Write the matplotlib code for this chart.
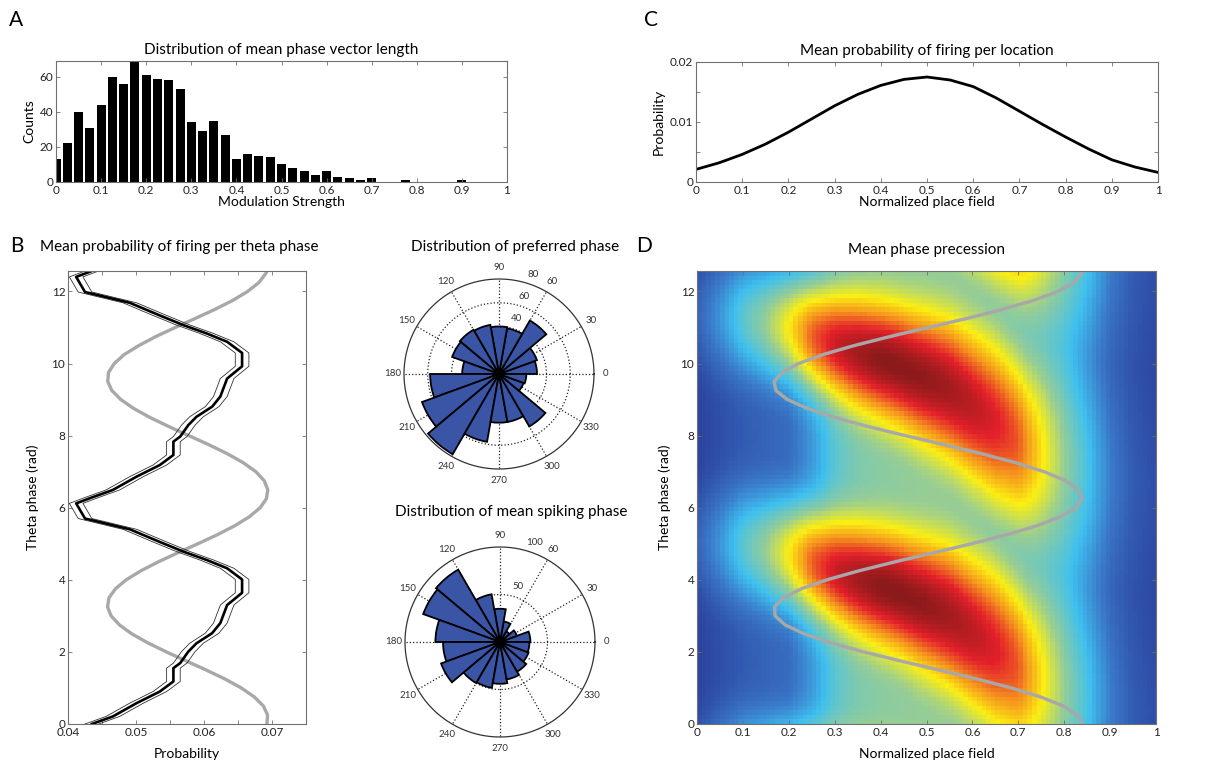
import numpy as np
import matplotlib.pyplot as plt
from matplotlib.colors import LinearSegmentedColormap

plt.rcParams['font.family'] = ['Lato', 'DejaVu Sans']
plt.rcParams['axes.edgecolor'] = '#707070'
plt.rcParams['axes.linewidth'] = 0.8

W, H = 1217, 764

# A: mean phase vector length histogram (bin centres, counts)
strength_bins = np.arange(0, 1.0, 0.025)
strength_counts = [13, 22, 40, 31, 44, 60, 56, 69, 61, 59, 58, 53, 34, 29, 35, 27,
                   13, 16, 15, 14, 10, 8, 6, 4, 6, 3, 2, 1, 2, 0, 0, 1, 0, 0, 0, 0,
                   1, 0, 0, 0]

# C: mean firing probability along the place field
place_x = [0.0, 0.05, 0.1, 0.15, 0.2, 0.25, 0.3, 0.35, 0.4, 0.45, 0.5,
           0.55, 0.6, 0.65, 0.7, 0.75, 0.8, 0.85, 0.9, 0.95, 1.0]
place_prob = [0.0021, 0.0032, 0.0046, 0.0063, 0.0083, 0.0105, 0.0127, 0.0146,
              0.0161, 0.0171, 0.0175, 0.0170, 0.0159, 0.0140, 0.0118, 0.0096,
              0.0075, 0.0055, 0.0037, 0.0025, 0.0016]

# B: firing probability over one theta cycle (shown twice)
cycle_phase = [0.0, 0.21, 0.58, 0.90, 1.18, 1.55, 1.69, 2.01, 2.24, 2.52, 2.80,
               3.30, 3.64, 4.01, 4.32, 4.55, 4.78, 5.05, 5.40, 5.70, 6.12]
cycle_prob = [0.0435, 0.0466, 0.0501, 0.0535, 0.0555, 0.0555, 0.0565, 0.0577,
              0.0589, 0.0612, 0.0624, 0.0634, 0.0656, 0.0656, 0.0634, 0.0604,
              0.0570, 0.0535, 0.0491, 0.0425, 0.0412]
cycle_sem = 0.001

# grey theta reference, sampled every 0.25 rad
ref_phase = [0.0, 0.25, 0.5, 0.75, 1.0, 1.25, 1.5, 1.75, 2.0, 2.25, 2.5, 2.75,
             3.0, 3.25, 3.5, 3.75, 4.0, 4.25, 4.5, 4.75, 5.0, 5.25, 5.5, 5.75,
             6.0, 6.25, 6.5, 6.75, 7.0, 7.25, 7.5, 7.75, 8.0, 8.25, 8.5, 8.75,
             9.0, 9.25, 9.5, 9.75, 10.0, 10.25, 10.5, 10.75, 11.0, 11.25, 11.5,
             11.75, 12.0, 12.25, 12.5, 12.566]
ref_prob = [0.06925, 0.06935, 0.06873, 0.06740, 0.06548, 0.06306, 0.06030, 0.05737,
            0.05446, 0.05175, 0.04939, 0.04755, 0.04634, 0.04581, 0.04603, 0.04697,
            0.04856, 0.05072, 0.05330, 0.05616, 0.05910, 0.06196, 0.06453, 0.06668,
            0.06826, 0.06918, 0.06938, 0.06885, 0.06762, 0.06576, 0.06341, 0.06068,
            0.05777, 0.05484, 0.05209, 0.04968, 0.04777, 0.04645, 0.04584, 0.04596,
            0.04680, 0.04828, 0.05043, 0.05294, 0.05578, 0.05871, 0.06159, 0.06422,
            0.06642, 0.06809, 0.06910, 0.06925]

# rose histograms, 18 bins of 20 degrees starting at 0
preferred_counts = [32, 34, 52, 39, 40, 42, 43, 42, 31, 58, 69, 78, 58, 41, 41, 51, 22, 23]
spiking_counts = [32, 19, 13, 22, 35, 51, 88, 86, 68, 60, 66, 50, 49, 44, 40, 36, 32, 31]

# D: phase precession map, described by its profile across the field
field_x = [0.0, 0.05, 0.1, 0.15, 0.2, 0.25, 0.3, 0.35, 0.4, 0.45, 0.5,
           0.55, 0.6, 0.65, 0.7, 0.75, 0.8, 0.85, 0.9, 0.95, 1.0]
field_peak = [0.17, 0.27, 0.40, 0.50, 0.64, 0.82, 0.92, 0.97, 1.0, 1.0, 0.99,
              0.97, 0.94, 0.90, 0.83, 0.66, 0.50, 0.37, 0.23, 0.15, 0.12]
field_trough = [0.08, 0.12, 0.15, 0.17, 0.19, 0.28, 0.40, 0.46, 0.48, 0.49, 0.50,
                0.50, 0.50, 0.49, 0.47, 0.44, 0.38, 0.28, 0.18, 0.13, 0.10]
field_sharpness = [1.6, 1.6, 1.6, 1.6, 1.6, 1.6, 1.6, 1.5, 1.4, 1.3, 1.15,
                   1.0, 0.9, 0.8, 0.8, 0.8, 0.8, 0.8, 0.8, 0.8, 0.8]
ridge_x = [0.0, 0.1, 0.2, 0.25, 0.35, 0.43, 0.55, 0.65, 0.72, 0.85, 1.0]
ridge_phase = [5.05, 4.95, 4.7, 4.47, 4.02, 3.69, 3.02, 2.1, 1.4, 0.75, 0.3]

# grey theta reference over the place field, sampled every 0.25 rad
prec_phase = ref_phase
prec_x = [0.839, 0.829, 0.798, 0.749, 0.685, 0.609, 0.527, 0.443, 0.363, 0.292,
          0.234, 0.192, 0.170, 0.169, 0.188, 0.227, 0.283, 0.353, 0.432, 0.516,
          0.598, 0.675, 0.741, 0.792, 0.826, 0.839, 0.831, 0.803, 0.756, 0.694,
          0.619, 0.538, 0.454, 0.373, 0.301, 0.241, 0.197, 0.172, 0.168, 0.185,
          0.221, 0.275, 0.343, 0.421, 0.504, 0.588, 0.665, 0.733, 0.787, 0.822,
          0.838, 0.839]

jet_print = LinearSegmentedColormap.from_list('jet_print', [
    (0.00, '#23328a'), (0.11, '#2e4ba6'), (0.22, '#3a78c8'), (0.35, '#3ec0ef'),
    (0.50, '#96cd96'), (0.64, '#fbef12'), (0.77, '#f5921e'), (0.89, '#e3202a'),
    (1.00, '#8c1a1a')])

TICK = 8.5
LABEL = 10
TITLE = 11
GREY = '#a8a8a8'


def rect(left, top, right, bottom):
    return [left / W, 1 - bottom / H, (right - left) / W, (bottom - top) / H]


def style(ax):
    ax.tick_params(direction='in', top=True, right=True, length=3, width=0.6,
                   color='#707070', labelsize=TICK, labelcolor='#222222', pad=2)


def draw_rose(ax, counts, rmax, rings):
    n = len(counts)
    edges = np.deg2rad(np.arange(n) * 360 / n)
    t = np.linspace(0, 2 * np.pi, 361)
    ax.set_ylim(0, rmax)
    ax.axis('off')
    for r in rings:
        ax.plot(t, np.full_like(t, r), ':', color='#222222', lw=0.9, zorder=1)
        ax.text(np.deg2rad(72), r + 0.11 * rmax, str(r), fontsize=7,
                color='#333333', ha='center', va='center', zorder=1)
    for a in range(0, 360, 30):
        ax.plot([np.deg2rad(a)] * 2, [0, rmax], ':', color='#222222', lw=0.9, zorder=1)
        ax.text(np.deg2rad(a), 1.12 * rmax, str(a), fontsize=7, color='#333333',
                ha='center', va='center')
    ax.plot(t, np.full_like(t, rmax), '-', color='#333333', lw=0.9, clip_on=False)
    ax.text(np.deg2rad(71), rmax * 1.11, str(rmax), fontsize=7, color='#333333',
            ha='center', va='center')
    ax.bar(edges, counts, width=2 * np.pi / n, align='edge', color='#3a55a5',
           edgecolor='black', linewidth=1.3, zorder=3)


fig = plt.figure(figsize=(W / 100, H / 100), dpi=100)
ticks01 = ['0', '0.1', '0.2', '0.3', '0.4', '0.5', '0.6', '0.7', '0.8', '0.9', '1']

# A
ax_a = fig.add_axes(rect(56, 61, 507, 182))
ax_a.bar(strength_bins, strength_counts, width=0.02, color='black')
ax_a.set_xlim(0, 1)
ax_a.set_ylim(0, 69)
ax_a.set_xticks(np.arange(0, 1.01, 0.1))
ax_a.set_xticklabels(ticks01)
ax_a.set_yticks([0, 20, 40, 60])
style(ax_a)
ax_a.set_title('Distribution of mean phase vector length', fontsize=TITLE, pad=5)
ax_a.set_xlabel('Modulation Strength', fontsize=LABEL, labelpad=0)
ax_a.set_ylabel('Counts', fontsize=LABEL, labelpad=3)

# C
ax_c = fig.add_axes(rect(696, 62, 1158, 182))
ax_c.plot(place_x, place_prob, color='black', lw=2)
ax_c.set_xlim(0, 1)
ax_c.set_ylim(0, 0.02)
ax_c.set_xticks(np.arange(0, 1.01, 0.1))
ax_c.set_xticklabels(ticks01)
ax_c.set_yticks([0, 0.005, 0.01, 0.015, 0.02])
ax_c.set_yticklabels(['0', '', '0.01', '', '0.02'])
style(ax_c)
ax_c.set_title('Mean probability of firing per location', fontsize=TITLE, pad=5)
ax_c.set_xlabel('Normalized place field', fontsize=LABEL, labelpad=0)
ax_c.set_ylabel('Probability', fontsize=LABEL, labelpad=4)

# B (left)
phase = np.concatenate([cycle_phase, np.array(cycle_phase) + 2 * np.pi, [4 * np.pi]])
prob = np.concatenate([cycle_prob, cycle_prob, [cycle_prob[0]]])
ax_b = fig.add_axes(rect(68, 271, 306, 724))
ax_b.plot(ref_prob, ref_phase, color=GREY, lw=2.4)
ax_b.plot(prob - cycle_sem, phase, color='#333333', lw=0.6)
ax_b.plot(prob + cycle_sem, phase, color='#333333', lw=0.6)
ax_b.plot(prob, phase, color='black', lw=1.9)
ax_b.set_xlim(0.04, 0.075)
ax_b.set_ylim(0, 4 * np.pi)
ax_b.set_xticks(np.arange(0.04, 0.0751, 0.005))
ax_b.set_xticklabels(['0.04', '', '0.05', '', '0.06', '', '0.07', ''])
ax_b.set_yticks(range(0, 13, 2))
style(ax_b)
ax_b.set_xlabel('Probability', fontsize=LABEL, labelpad=7)
ax_b.set_ylabel('Theta phase (rad)', fontsize=LABEL, labelpad=9)
fig.text(179 / W, 1 - 247 / H, 'Mean probability of firing per theta phase',
         fontsize=TITLE, ha='center', va='center')

# roses
ax_r1 = fig.add_axes(rect(404, 279, 594, 469), projection='polar')
draw_rose(ax_r1, preferred_counts, 80, [20, 40, 60])
fig.text(515 / W, 1 - 247 / H, 'Distribution of preferred phase',
         fontsize=TITLE, ha='center', va='center')
ax_r2 = fig.add_axes(rect(405, 547, 595, 737), projection='polar')
draw_rose(ax_r2, spiking_counts, 100, [50])
fig.text(511 / W, 1 - 512 / H, 'Distribution of mean spiking phase',
         fontsize=TITLE, ha='center', va='center')

# D
xe = np.linspace(0, 1, 101)
te = np.linspace(0, 4 * np.pi, 101)
xc = 0.5 * (xe[1:] + xe[:-1])
tc = 0.5 * (te[1:] + te[:-1])
peak = np.interp(xc, field_x, field_peak)
trough = np.interp(xc, field_x, field_trough)
sharp = np.interp(xc, field_x, field_sharpness)
pref = np.interp(xc, ridge_x, ridge_phase)
tuning = (0.5 + 0.5 * np.cos(tc[:, None] - pref[None, :])) ** sharp[None, :]
density = trough + (peak - trough) * tuning

ax_d = fig.add_axes(rect(697, 271, 1156, 724))
ax_d.pcolormesh(xe, te, density, cmap=jet_print, vmin=0, vmax=1, shading='flat')
ax_d.plot(prec_x, prec_phase, color=GREY, lw=2.4)
ax_d.set_xlim(0, 1)
ax_d.set_ylim(0, 4 * np.pi)
ax_d.set_xticks(np.arange(0, 1.01, 0.1))
ax_d.set_xticklabels(ticks01)
ax_d.set_yticks(range(0, 13, 2))
style(ax_d)
ax_d.set_title('Mean phase precession', fontsize=TITLE, pad=12)
ax_d.set_xlabel('Normalized place field', fontsize=LABEL, labelpad=7)
ax_d.set_ylabel('Theta phase (rad)', fontsize=LABEL, labelpad=7)

for letter, x, y in [('A', 16, 20), ('B', 17, 246), ('C', 651, 20), ('D', 644, 246)]:
    fig.text(x / W, 1 - y / H, letter, fontsize=15, ha='center', va='center')

fig.savefig('out.png', dpi=100)
